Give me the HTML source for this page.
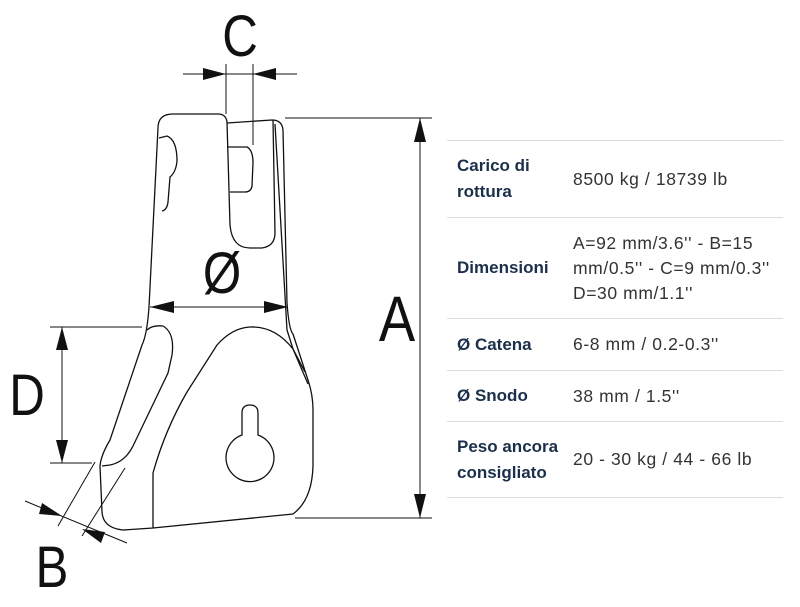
<!DOCTYPE html>
<html><head><meta charset="utf-8"><style>
body{margin:0;width:800px;height:607px;background:#fff;overflow:hidden;position:relative;font-family:"Liberation Sans",sans-serif}
svg{position:absolute;left:0;top:0}
.t{position:absolute;left:447px;top:140px;width:336px;font-family:"Liberation Sans",sans-serif}
.r{position:relative;border-top:1.5px solid #dcdcdc;display:flex;align-items:center;box-sizing:border-box}
.l{width:126px;flex:none;padding-left:10px;box-sizing:border-box;font-weight:bold;color:#1b2f4a;font-size:17px;line-height:26px}
.v{width:220px;flex:none;color:#333;font-size:17.5px;line-height:25px;letter-spacing:0.6px;white-space:nowrap}
</style></head><body>
<svg width="440" height="607" viewBox="0 0 440 607" fill="none" stroke="#111" stroke-width="1.3">
<path d="M158,128 C158,118 164,114 173,114 L218,114 Q226,114 227,122 L230,225 Q232,248 250,248 L262,248 Q275,246 275,233 L273,120"/>
<path d="M227,123 L272,120 Q282,120 283,130 L287,303 Q289,330 293,334 L308,380 Q313,395 313,410 L313,466 Q312,500 293,514 L153,528 L123,530 Q103,528 102,512 L100,466 Q101,455 110,440 L142,345 Q147,335 149,307 L158,128"/>
<path d="M275,124 L287,330 L293,349 L305,372"/>
<path d="M159,138 L167,136 Q177,140 177,161 Q176,172 170,177 L168,202 Q167,210 162,211"/>
<path d="M228,147 L247,147 Q253,150 253,163 L252,186 Q251,192 245,192 L230,192"/>
<path d="M147,330 Q152,325 163,326 Q175,333 172,355 L168,373 L133,446 Q125,462 110,465 L102,466"/>
<path d="M153,528 L153,473 Q165,430 187,392 L217,345 Q232,328 250,327 Q275,326 293,349 L308,384"/>
<path d="M242,435 L242,413 Q242,405 250,405 Q258,405 258,413 L258,435 A24,24 0 1 1 242,435 Z"/>
<g stroke-width="1">
<line x1="285" y1="118" x2="432" y2="118"/><line x1="295" y1="518" x2="432" y2="518"/>
<line x1="420" y1="118" x2="420" y2="518"/>
<line x1="226" y1="64" x2="226" y2="114"/><line x1="253" y1="64" x2="253" y2="145"/>
<line x1="183" y1="74" x2="297" y2="74"/>
<line x1="150" y1="307" x2="288" y2="307"/>
<line x1="50" y1="327" x2="142" y2="327"/><line x1="50" y1="463" x2="92" y2="463"/>
<line x1="62" y1="327" x2="62" y2="463"/>
<line x1="95" y1="462" x2="58" y2="526"/><line x1="125" y1="468" x2="82" y2="536"/>
<line x1="25" y1="501" x2="127" y2="543"/>
</g>
<g fill="#111" stroke="none">
<polygon points="420,118 414,142 426,142"/><polygon points="420,518 414,494 426,494"/>
<polygon points="226,74 203,68 203,80"/><polygon points="253,74 276,68 276,80"/>
<polygon points="150,307 174,301 174,313"/><polygon points="288,307 264,301 264,313"/>
<polygon points="62,327 56,350 68,350"/><polygon points="62,463 56,440 68,440"/>
<polygon points="62,516 42,503 39,514"/><polygon points="82,529 105,532 101,543"/>
</g>
<g fill="#111" stroke="none" font-family="Liberation Sans, sans-serif" text-anchor="middle">
<text x="240" y="56" font-size="58" transform="translate(240,0) scale(0.85,1) translate(-240,0)">C</text>
<text x="397" y="341" font-size="64" transform="translate(397,0) scale(0.85,1) translate(-397,0)">A</text>
<text x="222" y="293" font-size="58" transform="translate(222,0) scale(0.85,1) translate(-222,0)">Ø</text>
<text x="27" y="415" font-size="58" transform="translate(27,0) scale(0.85,1) translate(-27,0)">D</text>
<text x="52" y="587" font-size="58" transform="translate(52,0) scale(0.85,1) translate(-52,0)">B</text>
</g>
</svg>
<div class="t">
<div class="r" style="height:77px"><div class="l">Carico di rottura</div><div class="v">8500 kg / 18739 lb</div></div>
<div class="r" style="height:101px"><div class="l">Dimensioni</div><div class="v">A=92 mm/3.6'' - B=15<br>mm/0.5'' - C=9 mm/0.3''<br>D=30 mm/1.1''</div></div>
<div class="r" style="height:52px"><div class="l">Ø Catena</div><div class="v">6-8 mm / 0.2-0.3''</div></div>
<div class="r" style="height:51px"><div class="l">Ø Snodo</div><div class="v">38 mm / 1.5''</div></div>
<div class="r" style="height:77px;border-bottom:1.5px solid #dcdcdc"><div class="l">Peso ancora consigliato</div><div class="v">20 - 30 kg / 44 - 66 lb</div></div>
</div>
</body></html>
